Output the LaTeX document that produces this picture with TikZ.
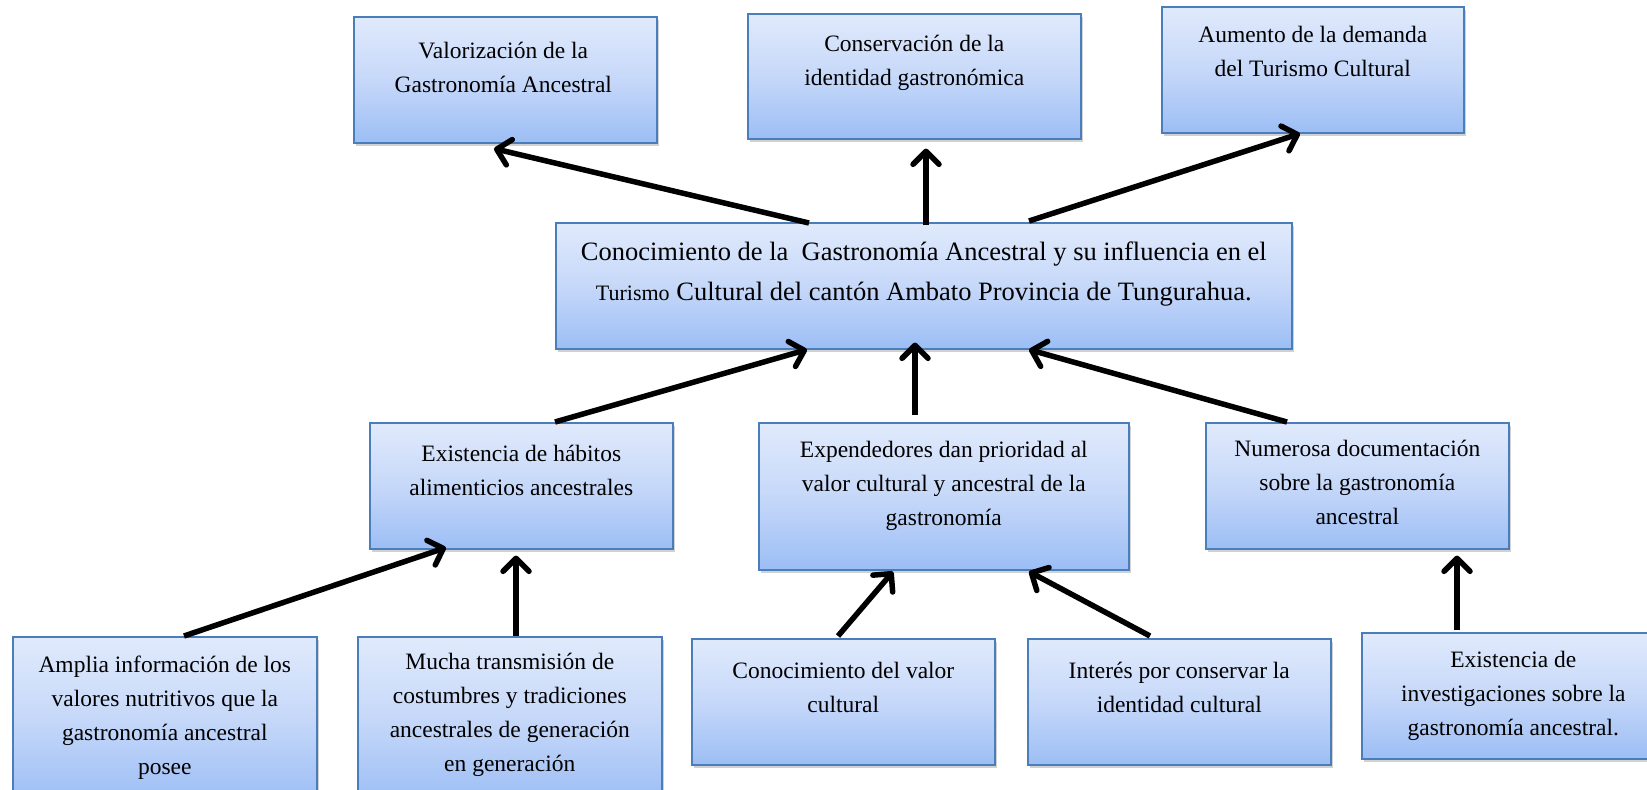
\documentclass[tikz,border=0pt]{standalone}
\usepackage{fontspec}
\setmainfont{Liberation Serif}
\usetikzlibrary{arrows.meta,calc,shadows}
\definecolor{bordc}{HTML}{4A7EBB}
\definecolor{topc}{HTML}{E0EAFC}
\definecolor{midc}{HTML}{C6D8F9}
\definecolor{botc}{HTML}{9CBEF5}
\tikzset{
  box/.style={draw=bordc, line width=1.6pt, top color=topc, bottom color=botc, middle color=midc, inner sep=0pt,
    drop shadow={shadow xshift=2pt, shadow yshift=-3pt, opacity=0.3, fill=black!60}},
  txt/.style={anchor=north, align=center, inner sep=0pt, font=\fontsize{23.5}{34}\selectfont},
  bigtxt/.style={anchor=north, align=center, inner sep=0pt, font=\fontsize{26.5}{40}\selectfont},
  arr/.style={line width=5.5pt, -{Straight Barb[length=13pt,width=26pt,round]}}
}
\begin{document}
\begin{tikzpicture}[x=1pt,y=-1pt]
\useasboundingbox (0,0) rectangle (1647,790);
\begin{scope}
\clip (0,0) rectangle (1647,790);
\node[box, minimum width=303pt, minimum height=126pt, anchor=north west] (b1) at (353,16) {};
\node[box, minimum width=333pt, minimum height=125pt, anchor=north west] (b2) at (747,13) {};
\node[box, minimum width=302pt, minimum height=126pt, anchor=north west] (b3) at (1161,6) {};
\node[box, minimum width=736pt, minimum height=126pt, anchor=north west] (c) at (555,222) {};
\node[box, minimum width=303pt, minimum height=126pt, anchor=north west] (h) at (369,422) {};
\node[box, minimum width=370pt, minimum height=147pt, anchor=north west] (e) at (758,422) {};
\node[box, minimum width=303pt, minimum height=126pt, anchor=north west] (n) at (1205,422) {};
\node[box, minimum width=304pt, minimum height=164pt, anchor=north west] (a1) at (12,636) {};
\node[box, minimum width=304pt, minimum height=164pt, anchor=north west] (a2) at (357,636) {};
\node[box, minimum width=303pt, minimum height=126pt, anchor=north west] (a3) at (691,638) {};
\node[box, minimum width=303pt, minimum height=126pt, anchor=north west] (a4) at (1027,638) {};
\node[box, minimum width=303pt, minimum height=126pt, anchor=north west] (a5) at (1361,632) {};
\end{scope}
% texts
\node[txt] (t1) at ($(b1.north)+(-2,26)$) {Valorización de la\\Gastronomía Ancestral};
\node[txt] (t2) at ($(b2.north)+(0,22)$) {Conservación de la\\identidad gastronómica};
\node[txt] (t3) at ($(b3.north)+(0,20)$) {Aumento de la demanda\\del Turismo Cultural};
\node[bigtxt] (tc) at ($(c.north)+(0,20)$) {Conocimiento de la\ \ Gastronomía Ancestral y su influencia en el\\{\fontsize{22}{40}\selectfont Turismo} Cultural del cantón Ambato Provincia de Tungurahua.};
\node[txt] (th) at ($(h.north)+(0,23)$) {Existencia de hábitos\\alimenticios ancestrales};
\node[txt] (te) at ($(e.north)+(0,19)$) {Expendedores dan prioridad al\\valor cultural y ancestral de la\\gastronomía};
\node[txt] (tn) at ($(n.north)+(0,18)$) {Numerosa documentación\\sobre la gastronomía\\ancestral};
\node[txt] (ta1) at ($(a1.north)+(0,20)$) {Amplia información de los\\valores nutritivos que la\\gastronomía ancestral\\posee};
\node[txt] (ta2) at ($(a2.north)+(0,17)$) {Mucha transmisión de\\costumbres y tradiciones\\ancestrales de generación\\en generación};
\node[txt] (ta3) at ($(a3.north)+(0,24)$) {Conocimiento del valor\\cultural};
\node[txt] (ta4) at ($(a4.north)+(0,24)$) {Interés por conservar la\\identidad cultural};
\node[txt] (ta5) at ($(a5.north)+(0,19)$) {Existencia de\\investigaciones sobre la\\gastronomía ancestral.};
% arrows
\draw[arr] ($(c.north west)+(254,1)$) -- ($(b1.south west)+(141,5)$);
\draw[arr] ($(c.north west)+(371,3)$) -- ($(b2.south west)+(179,9)$);
\draw[arr] ($(c.north west)+(474,-1)$) -- ($(b3.south west)+(139,0)$);
\draw[arr] ($(h.north west)+(186,0)$) -- ($(c.south west)+(252,0)$);
\draw[arr] ($(e.north west)+(157,-7)$) -- ($(c.south west)+(360,-7)$);
\draw[arr] ($(n.north west)+(82,0)$) -- ($(c.south west)+(474,0)$);
\draw[arr] ($(a1.north west)+(172,0)$) -- ($(h.south west)+(77,-2)$);
\draw[arr] ($(a2.north west)+(159,0)$) -- ($(h.south west)+(147,6)$);
\draw[arr] ($(a3.north west)+(147,-2)$) -- ($(e.south west)+(135,1)$);
\draw[arr] ($(a4.north west)+(123,-2)$) -- ($(e.south west)+(271,1)$);
\draw[arr] ($(a5.north west)+(96,-2)$) -- ($(n.south west)+(252,6)$);
\end{tikzpicture}
\end{document}
